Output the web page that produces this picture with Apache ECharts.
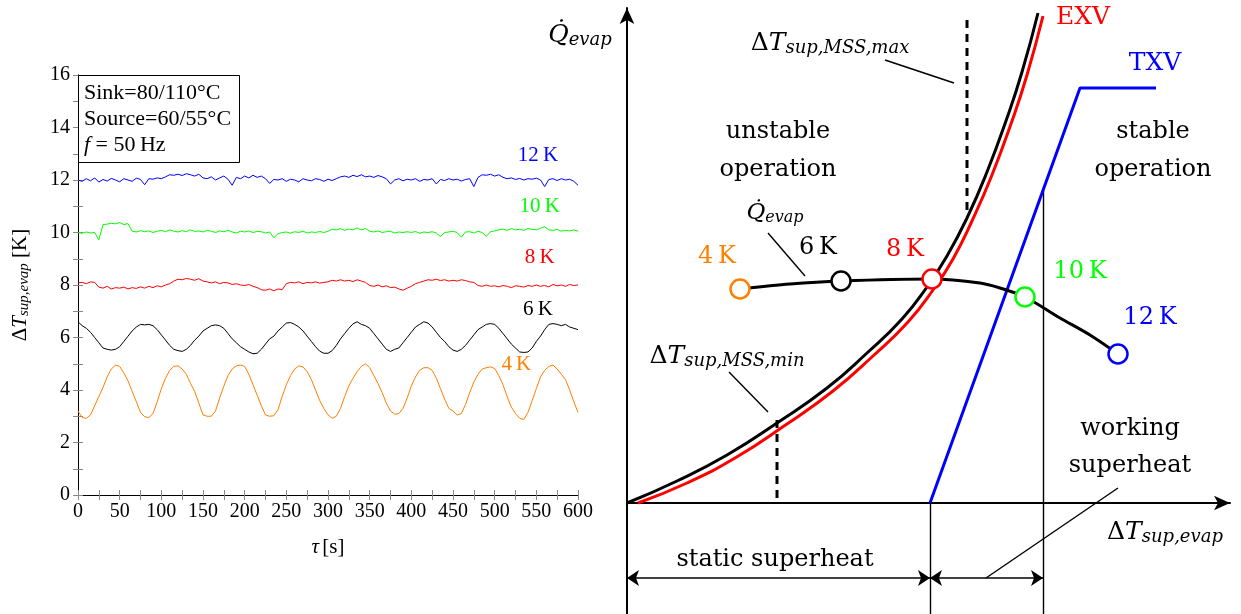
<!DOCTYPE html>
<html lang="en">
<head>
<meta charset="UTF-8">
<title>Superheat oscillations / MSS</title>
<script src="https://cdn.jsdelivr.net/npm/echarts@6/dist/echarts.min.js"></script>
<style>
  html, body { margin: 0; padding: 0; background: #fff; }
  #main { width: 1241px; height: 614px; }
</style>
</head>
<body>
<div id="main"></div>
<script>
// ---- left panel: measured superheat, sampled every 5 s (0..600 s) ----
const STEP = 5;
const sh12K = [
  12.0, 11.95, 12.05, 11.97, 12.08, 11.92, 12.02, 11.96, 12.06, 12.0,
  11.93, 12.05, 12.0, 11.95, 12.07, 12.02, 11.82, 12.05, 12.03, 12.08,
  12.05, 12.12, 12.2, 12.18, 12.22, 12.17, 12.24, 12.2, 12.15, 12.22,
  12.08, 12.05, 12.12, 12.0, 12.08, 12.15, 12.03, 11.8, 12.1, 12.05,
  12.15, 12.08, 12.18, 12.1, 12.15, 12.05, 11.87, 12.02, 12.0, 12.05,
  11.95, 12.03, 12.0, 11.93, 12.05, 12.0, 11.97, 12.05, 12.02, 11.95,
  12.03, 11.98, 12.05, 12.12, 12.15, 12.1, 12.18, 12.13, 12.2, 12.12,
  12.15, 12.1, 12.17, 12.12, 12.05, 11.85, 12.0, 12.05, 11.97, 12.03,
  12.0, 12.05, 11.95, 12.02, 12.0, 12.05, 11.85, 12.02, 11.98, 12.05,
  12.0, 12.03, 11.96, 12.02, 12.05, 11.75, 12.1, 12.2, 12.18, 12.22,
  12.15, 12.2, 12.1, 12.05, 12.08, 12.02, 12.06, 12.0, 12.05, 12.03,
  12.07, 12.0, 11.75, 12.02, 12.05, 11.98, 12.05, 12.0, 12.03, 11.95,
  11.8
];
const sh10K = [
  10.0, 9.97, 10.02, 9.98, 10.0, 9.72, 10.3, 10.32, 10.35, 10.33,
  10.38, 10.3, 10.34, 10.05, 10.02, 10.07, 10.03, 10.06, 10.0, 10.05,
  10.08, 10.03, 10.1, 10.05, 10.02, 10.07, 10.03, 10.1, 10.04, 10.06,
  10.02, 10.08, 10.05, 10.0, 10.06, 10.03, 10.08, 10.02, 9.98, 10.05,
  10.02, 10.06, 10.0, 10.04, 10.03, 9.98, 10.02, 9.8, 9.95, 10.0,
  10.02, 9.97, 10.03, 10.0, 10.05, 9.98, 10.02, 10.0, 10.04, 10.0,
  10.05, 10.12, 10.1, 10.15, 10.08, 10.13, 10.1, 10.17, 10.1, 10.15,
  10.05, 10.02, 10.06, 10.0, 10.03, 10.05, 9.98, 10.02, 10.0, 10.03,
  10.0, 10.04, 9.97, 10.02, 10.0, 10.03, 9.98, 9.85, 10.0, 10.02,
  10.05, 10.0, 9.82, 10.02, 10.03, 9.98, 10.05, 10.0, 9.85, 10.03,
  10.06, 10.1, 10.13, 10.08, 10.15, 10.1, 10.12, 10.08, 10.15, 10.12,
  10.1, 10.16, 10.22, 10.1, 10.08, 10.12, 10.05, 10.08, 10.06, 10.1,
  10.05
];
const sh8K = [
  8.08, 8.1, 8.05, 8.12, 8.1, 7.92, 7.88, 7.95, 7.85, 7.9,
  7.88, 7.92, 7.85, 7.9, 7.87, 7.93, 7.88, 7.95, 7.9, 7.97,
  7.93, 8.0, 8.05, 8.15, 8.22, 8.2, 8.25, 8.22, 8.18, 8.24,
  8.15, 8.12, 8.08, 8.12, 8.05, 8.1, 8.08, 8.02, 8.05, 8.0,
  7.98, 8.02, 7.95, 7.9, 7.82, 7.8, 7.85, 7.78, 7.85, 7.82,
  8.05, 8.1, 8.08, 8.12, 8.05, 8.1, 8.08, 8.12, 8.07, 8.1,
  8.12, 8.18, 8.15, 8.2, 8.15, 8.18, 8.13, 8.2, 8.15, 8.1,
  7.98, 7.95, 8.0, 7.93, 7.97, 7.9, 7.92, 7.85, 7.8, 7.88,
  7.95, 8.05, 8.1, 8.15, 8.2, 8.18, 8.22, 8.17, 8.2, 8.15,
  8.18, 8.15, 8.2, 8.17, 8.12, 8.1, 7.98, 7.95, 8.0, 7.95,
  7.97, 7.93, 7.98, 7.95, 7.9, 7.97, 7.95, 7.92, 7.98, 7.95,
  8.0, 7.95, 7.98, 7.93, 8.02, 7.97, 8.0, 7.95, 8.02, 7.98,
  8.0
];
const sh6K = [
  6.6, 6.45, 6.35, 6.2, 6.0, 5.8, 5.6, 5.55, 5.52, 5.55,
  5.65, 5.85, 6.05, 6.25, 6.4, 6.5, 6.48, 6.5, 6.45, 6.3,
  6.1, 5.9, 5.7, 5.55, 5.5, 5.47, 5.55, 5.7, 5.9, 6.05,
  6.25, 6.35, 6.45, 6.48, 6.45, 6.35, 6.15, 5.95, 5.8, 5.65,
  5.55, 5.45, 5.38, 5.4, 5.55, 5.75, 5.95, 6.05, 6.25, 6.4,
  6.55, 6.57, 6.5, 6.4, 6.25, 6.05, 5.85, 5.65, 5.48, 5.4,
  5.4, 5.5, 5.7, 5.95, 6.15, 6.35, 6.52, 6.6, 6.5, 6.45,
  6.35, 6.15, 5.95, 5.75, 5.55, 5.47, 5.55, 5.6, 5.8, 6.0,
  6.2, 6.4, 6.5, 6.6, 6.55, 6.4, 6.2, 6.0, 5.85, 5.65,
  5.52, 5.47, 5.55, 5.7, 5.9, 6.1, 6.3, 6.4, 6.5, 6.53,
  6.5, 6.35, 6.15, 5.95, 5.75, 5.6, 5.45, 5.43, 5.45, 5.6,
  5.85, 6.05, 6.3, 6.5, 6.53, 6.5, 6.45, 6.5, 6.4, 6.35,
  6.3
];
const sh4K = [
  3.2, 2.95, 2.92, 3.05, 3.4, 3.75, 4.1, 4.5, 4.8, 4.95,
  4.9, 4.65, 4.35, 3.95, 3.55, 3.15, 2.98, 2.95, 3.1, 3.55,
  4.05, 4.45, 4.75, 4.9, 4.92, 4.8, 4.6, 4.25, 3.95, 3.5,
  3.05, 3.0, 3.0, 3.2, 3.7, 4.15, 4.55, 4.8, 4.92, 4.95,
  4.9, 4.6, 4.2, 3.8, 3.4, 3.05, 3.0, 3.02, 3.25, 3.75,
  4.2, 4.55, 4.8, 4.92, 4.88, 4.7, 4.4, 4.0, 3.6, 3.3,
  3.05, 2.92, 3.0, 3.3, 3.75, 4.15, 4.45, 4.7, 4.9, 5.0,
  4.85, 4.55, 4.25, 3.9, 3.5, 3.2, 3.08, 3.1, 3.3, 3.7,
  4.15, 4.5, 4.75, 4.85, 4.85, 4.75, 4.45, 4.05, 3.65, 3.3,
  3.2, 3.05, 3.1, 3.45, 3.9, 4.3, 4.6, 4.8, 4.85, 4.88,
  4.82, 4.55, 4.2, 3.75, 3.35, 3.1, 2.92, 2.88, 3.15, 3.6,
  4.05, 4.5, 4.75, 4.9, 4.95, 4.8, 4.6, 4.4, 4.0, 3.55,
  3.15
];
const curveNames = ['12 K', '10 K', '8 K', '6 K', '4 K'];
const curveColors = ['#0000ff', '#00ff00', '#ff0000', '#000000', '#ff8000'];
const curveLabelPos = [[552, 12.95], [554, 11.0], [554, 9.03], [552, 7.05], [526, 4.99]];

// ---- right panel: schematic, arbitrary units ----
const exvBlack = [[0, 0], [50, 22], [100, 48], [150, 80], [200, 115], [240, 150], [275, 184], [300, 216], [320, 247], [340, 285], [360, 331], [380, 385], [395, 431], [411, 490]];
const exvRed = [[11, 0], [60, 20], [108, 45], [157, 77], [206, 112], [246, 147], [281, 181], [306, 213], [326, 244], [345, 282], [365, 328], [385, 382], [400, 428], [416, 487]];
const txv = [[303, 0], [453, 415], [529, 415]];
const qEvap = [[113, 214], [163, 219], [214, 222], [305, 224], [353, 220], [373, 215], [398, 206], [433, 185], [463, 168], [491, 149]];
const opPoints = [[113, 214], [214, 222], [305, 224], [398, 206], [491, 149]];
const opNames = ['4 K', '6 K', '8 K', '10 K', '12 K'];
const opColors = ['#ff8000', '#000000', '#ff0000', '#00ff00', '#0000ff'];
const opLabelPos = [[90, 246], [191, 255], [278, 253], [453, 231], [523, 185]];
const mssMax = [[340, 483], [340, 288]];
const mssMin = [[150, 83], [150, 0]];
const staticEnd = 303, workingEnd = 416, arrowY = -75;

const FONT = 'Liberation Serif';   // left panel (Times-like)
const FONT_R = 'DejaVu Serif';     // right panel (wide, closer to CM extents)

function mathRich(size, font) {
    const f = font || FONT;
    const L = Math.round(size * 1.15);
    const off = Math.round(size * 0.38);
    return {
        r: { fontFamily: f, fontSize: size, lineHeight: L },
        i: { fontFamily: f, fontSize: size, lineHeight: L, fontStyle: 'italic' },
        s: { fontFamily: f, fontSize: Math.round(size * 0.7), lineHeight: L - 2 * off, fontStyle: 'italic', verticalAlign: 'bottom' }
    };
}

function withTime(arr) {
    return arr.map((v, i) => [i * STEP, v]);
}

let myChart = echarts.init(document.getElementById('main'), null, { renderer: 'canvas' });

// ticks every 25 s / 1 K, labels only on every second one
const tick = { inside: true, length: 5, lineStyle: { color: '#888' } };
const xLabel = v => (v % 50 === 0 ? String(v) : '');
const yLabel = v => (v % 2 === 0 ? String(v) : '');

const leftSeries = [sh12K, sh10K, sh8K, sh6K, sh4K].map((arr, k) => ({
    name: curveNames[k],
    type: 'line',
    xAxisIndex: 0,
    yAxisIndex: 0,
    data: withTime(arr),
    showSymbol: false,
    lineStyle: { color: curveColors[k], width: 1 },
    itemStyle: { color: curveColors[k] },
    z: 3
}));

leftSeries.push({
    name: 'curve labels',
    type: 'scatter',
    xAxisIndex: 0,
    yAxisIndex: 0,
    symbolSize: 0,
    clip: false,
    itemStyle: { opacity: 1 },
    data: curveLabelPos.map((p, k) => ({
        value: p,
        label: {
            show: true, position: 'inside', formatter: curveNames[k].replace(' ', '\u2009'),
            color: curveColors[k], fontFamily: FONT, fontSize: 21
        }
    }))
});

// notes for the schematic
function note(x, y, text, size, extra) {
    return {
        value: [x, y],
        label: Object.assign({
            show: true, position: 'inside', formatter: text,
            color: '#000', fontFamily: FONT_R, fontSize: size, lineHeight: 38,
            align: 'center', verticalAlign: 'middle', rich: mathRich(size, FONT_R)
        }, extra || {})
    };
}
const Q = 'Q\u0307';
const notes = [
    note(-47, 468, '{i|' + Q + '}{s|evap}', 25),
    note(456, 486, 'EXV', 25, { color: '#ff0000' }),
    note(528, 440, 'TXV', 25, { color: '#0000ff' }),
    note(203, 460, '{r|Δ}{i|T}{s|sup,MSS,max}', 25),
    note(151, 352, 'unstable\noperation', 24),
    note(526, 352, 'stable\noperation', 24),
    note(148, 290, '{i|' + Q + '}{s|evap}', 23),
    note(100, 147, '{r|Δ}{i|T}{s|sup,MSS,min}', 25),
    note(503, 56, 'working\nsuperheat', 24, { lineHeight: 37 }),
    note(538, -29, '{r|Δ}{i|T}{s|sup,evap}', 25),
    note(148, -57, 'static superheat', 24)
];
opLabelPos.forEach((p, k) => notes.push(note(p[0], p[1], opNames[k].replace(' ', '\u2009'), 24, { color: opColors[k] })));

const guideLines = [
    [[258, 443], [327, 420]],
    [[141, 270], [178, 227]],
    [[102, 131], [141, 91]],
    [[491, 15], [359, arrowY]],
    [[staticEnd, 0], [staticEnd, -111]],
    [[workingEnd, 313], [workingEnd, -111]]
];

const rightSeries = [
    { name: 'EXV black', type: 'line', data: exvBlack, smooth: 0.5, showSymbol: false, lineStyle: { color: '#000', width: 3 } },
    { name: 'EXV', type: 'line', data: exvRed, smooth: 0.5, showSymbol: false, lineStyle: { color: '#ff0000', width: 3 } },
    { name: 'TXV', type: 'line', data: txv, showSymbol: false, lineStyle: { color: '#0000ff', width: 3 } },
    { name: 'MSS max', type: 'line', data: mssMax, showSymbol: false, lineStyle: { color: '#000', width: 3, type: [8, 6] } },
    { name: 'MSS min', type: 'line', data: mssMin, showSymbol: false, lineStyle: { color: '#000', width: 3, type: [8, 6] } },
    { name: 'Qevap', type: 'line', data: qEvap, smooth: 0.3, showSymbol: false, lineStyle: { color: '#000', width: 3 }, z: 4 },
    {
        name: 'guides', type: 'lines', coordinateSystem: 'cartesian2d',
        symbol: ['none', 'none'],
        lineStyle: { color: '#000', width: 1.4, opacity: 1 },
        data: guideLines.map(c => ({ coords: c })),
        z: 2
    },
    {
        name: 'spans', type: 'lines', coordinateSystem: 'cartesian2d',
        symbol: ['arrow', 'arrow'], symbolSize: 12,
        lineStyle: { color: '#000', width: 1.6, opacity: 1 },
        data: [
            { coords: [[0, arrowY], [staticEnd, arrowY]] },
            { coords: [[staticEnd, arrowY], [workingEnd, arrowY]] }
        ]
    },
    {
        name: 'operating points', type: 'scatter', symbol: 'circle', symbolSize: 19,
        data: opPoints.map((p, k) => ({ value: p, itemStyle: { color: '#fff', borderColor: opColors[k], borderWidth: 2.5, opacity: 1 } })),
        z: 6
    },
    { name: 'notes', type: 'scatter', symbolSize: 0, clip: false, itemStyle: { opacity: 1 }, data: notes, z: 7 }
].map(s => Object.assign({ xAxisIndex: 2, yAxisIndex: 2, animation: false }, s));

option = {
    animation: false,
    backgroundColor: '#fff',
    title: {
        left: 78, top: 75,
        text: '{r|Sink=80/110°C}\n{r|Source=60/55°C}\n{i|f} {r|= 50\u2009Hz}',
        padding: [5, 9, 5, 6],
        borderColor: '#000', borderWidth: 1, backgroundColor: '#fff',
        textStyle: {
            fontFamily: FONT, fontSize: 22, fontWeight: 'normal', color: '#000', lineHeight: 26,
            rich: {
                r: { fontFamily: FONT, fontSize: 22, lineHeight: 26, color: '#000' },
                i: { fontFamily: FONT, fontSize: 22, lineHeight: 26, fontStyle: 'italic', color: '#000' }
            }
        },
        z: 10
    },
    grid: [
        { left: 78, top: 75, width: 500, height: 420 },
        { left: 627, top: 8, width: 603, height: 606 }
    ],
    xAxis: [
        {
            gridIndex: 0, type: 'value', min: 0, max: 600, interval: 25,
            axisLine: { lineStyle: { color: '#000', width: 1 } },
            axisTick: tick, splitLine: { show: false },
            axisLabel: { fontFamily: FONT, fontSize: 20, color: '#000', margin: 7, formatter: xLabel },
            name: '{i|τ} {r|[s]}', nameLocation: 'middle', nameGap: 40,
            nameTextStyle: { rich: mathRich(21) }
        },
        {
            gridIndex: 0, type: 'value', position: 'top', min: 0, max: 600, interval: 25,
            axisLine: { lineStyle: { color: '#000', width: 1 } },
            axisTick: tick, splitLine: { show: false }, axisLabel: { show: false }
        },
        {
            gridIndex: 1, type: 'value', min: 0, max: 603,
            axisLine: { onZero: true, symbol: ['none', 'arrow'], symbolSize: [11, 16], lineStyle: { color: '#000', width: 2 } },
            axisTick: { show: false }, axisLabel: { show: false }, splitLine: { show: false }
        }
    ],
    yAxis: [
        {
            gridIndex: 0, type: 'value', min: 0, max: 16, interval: 1,
            axisLine: { show: true, lineStyle: { color: '#000', width: 1 } },
            axisTick: tick, splitLine: { show: false },
            axisLabel: { fontFamily: FONT, fontSize: 20, color: '#000', margin: 8, formatter: yLabel },
            name: '{r|Δ}{i|T}{s|sup,evap}{r| [K]}', nameLocation: 'middle', nameGap: 46, nameRotate: 90,
            nameTextStyle: { rich: mathRich(21) }
        },
        {
            gridIndex: 0, type: 'value', position: 'right', min: 0, max: 16, interval: 1,
            axisLine: { show: true, lineStyle: { color: '#000', width: 1 } },
            axisTick: tick, splitLine: { show: false }, axisLabel: { show: false }
        },
        {
            gridIndex: 1, type: 'value', min: -111, max: 495,
            axisLine: { show: true, onZero: true, symbol: ['none', 'arrow'], symbolSize: [11, 16], lineStyle: { color: '#000', width: 2 } },
            axisTick: { show: false }, axisLabel: { show: false }, splitLine: { show: false }
        }
    ],
    series: leftSeries.concat(rightSeries)
};

myChart.setOption(option);
</script>
</body>
</html>
